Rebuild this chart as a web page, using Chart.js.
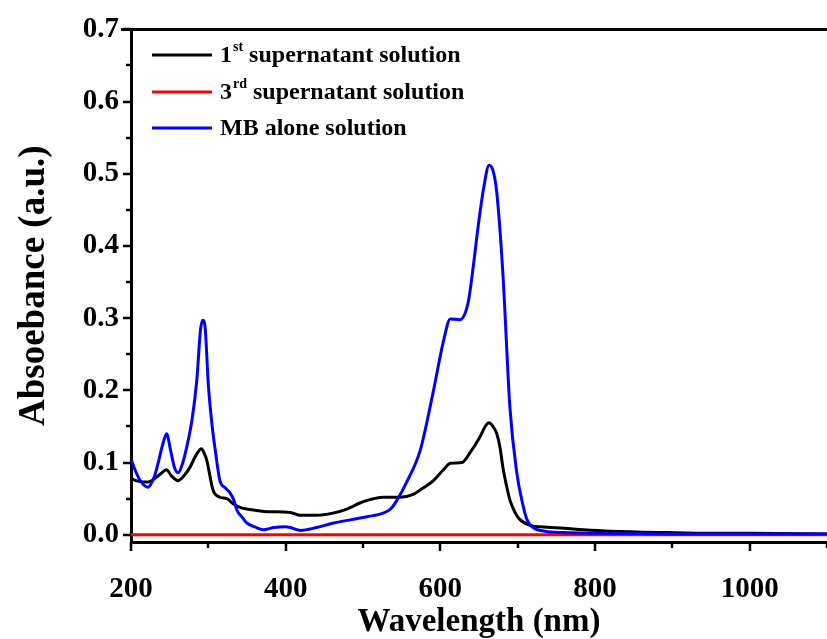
<!DOCTYPE html>
<html>
<head>
<meta charset="utf-8">
<script src="https://cdn.jsdelivr.net/npm/chart.js@4/dist/chart.umd.min.js"></script>
<style>
  html, body { margin: 0; padding: 0; background: #fff; }
  canvas { display: block; }
</style>
</head>
<body>
<canvas id="absorbancia" width="827" height="639"></canvas>
<script>
// series names (legend)
const seriesNames = ["1st supernatant solution", "3rd supernatant solution", "MB alone solution"];
const seriesColors = ["#000000", "#ff0000", "#0000ff"];

// 1st supernatant solution
const wl1 = [200, 210, 222, 232, 240, 246, 252, 261, 268, 276, 284, 291, 295, 298, 302, 306, 315, 324, 332, 341,
  360, 376, 406, 419, 440, 461, 480, 496, 510, 526, 548, 565, 574, 591, 604, 613, 628, 638, 651, 658,
  663, 668, 673, 677, 681, 686, 690, 697, 703, 716, 730, 760, 785, 820, 893, 950, 1000, 1100];
const abs1 = [0.078, 0.074, 0.073, 0.079, 0.086, 0.090, 0.082, 0.075, 0.081, 0.093, 0.110, 0.119, 0.112, 0.103, 0.082, 0.062, 0.052, 0.050, 0.043, 0.038,
  0.034, 0.032, 0.031, 0.027, 0.027, 0.030, 0.036, 0.044, 0.049, 0.052, 0.052, 0.056, 0.062, 0.075, 0.090, 0.099, 0.100, 0.113, 0.135, 0.150,
  0.155, 0.150, 0.140, 0.122, 0.093, 0.066, 0.048, 0.030, 0.021, 0.013, 0.011, 0.009, 0.007, 0.005, 0.003, 0.002, 0.002, 0.001];

// 3rd supernatant solution
const wl3 = [200, 300, 400, 500, 600, 700, 800, 900, 1000, 1100];
const abs3 = [0, 0, 0, 0, 0, 0, 0, 0, 0, 0];

// MB alone solution
const wlMB = [200, 206, 212, 222, 230, 235, 241, 246, 251, 256, 261, 267, 272, 279, 285, 290, 293, 296, 300, 305,
  309, 315, 322, 328, 333, 337, 344, 350, 360, 371, 385, 400, 406, 419, 440, 461, 485, 505, 526, 536,
  544, 556, 574, 591, 604, 613, 625, 636, 643, 649, 656, 663, 668, 673, 681, 690, 699, 706, 712, 720,
  735, 760, 800, 900, 1000, 1100];
const absMB = [0.105, 0.088, 0.075, 0.066, 0.080, 0.099, 0.125, 0.140, 0.118, 0.094, 0.086, 0.100, 0.121, 0.160, 0.213, 0.285, 0.297, 0.285, 0.208, 0.150,
  0.117, 0.075, 0.065, 0.058, 0.048, 0.034, 0.024, 0.016, 0.011, 0.007, 0.010, 0.011, 0.010, 0.006, 0.010, 0.016, 0.021, 0.025, 0.030, 0.036,
  0.048, 0.072, 0.117, 0.199, 0.268, 0.299, 0.298, 0.322, 0.375, 0.428, 0.480, 0.512, 0.505, 0.474, 0.360, 0.176, 0.085, 0.045, 0.021, 0.010,
  0.005, 0.003, 0.002, 0.001, 0.001, 0.001];

// axes
const xMajor = [200, 400, 600, 800, 1000];
const xMinor = [300, 500, 700, 900, 1100];
const yMajor = [0, 0.1, 0.2, 0.3, 0.4, 0.5, 0.6, 0.7];
const yMinor = [0.05, 0.15, 0.25, 0.35, 0.45, 0.55, 0.65];

const fuente = "'Liberation Serif', 'Times New Roman', serif";

const toPoints = (xs, ys) => xs.map((x, i) => ({ x: x, y: ys[i] }));

// marcas de los ejes, borde superior y leyenda con superindices
const extras = {
  id: "extras",
  afterDraw(chart) {
    const ctx = chart.ctx;
    const { left, right, top, bottom } = chart.chartArea;
    const xs = chart.scales.x;
    const ys = chart.scales.y;
    ctx.save();
    ctx.strokeStyle = "#000";
    ctx.lineWidth = 2.5;
    ctx.beginPath();
    yMajor.forEach((v) => { const p = Math.round(ys.getPixelForValue(v)); ctx.moveTo(left, p); ctx.lineTo(left - 8, p); });
    yMinor.forEach((v) => { const p = Math.round(ys.getPixelForValue(v)); ctx.moveTo(left, p); ctx.lineTo(left - 5, p); });
    xMajor.forEach((v) => { const p = Math.round(xs.getPixelForValue(v)); ctx.moveTo(p, bottom); ctx.lineTo(p, bottom + 9); });
    xMinor.forEach((v) => { const p = Math.round(xs.getPixelForValue(v)); ctx.moveTo(p, bottom); ctx.lineTo(p, bottom + 6); });
    ctx.stroke();
    ctx.lineWidth = 3;
    ctx.beginPath();
    ctx.moveTo(left - 10, top);
    ctx.lineTo(right, top);
    ctx.stroke();

    // leyenda
    const filas = [55, 92, 128];
    seriesNames.forEach((name, i) => {
      const y = filas[i];
      ctx.strokeStyle = seriesColors[i];
      ctx.lineWidth = 3;
      ctx.beginPath();
      ctx.moveTo(152, y);
      ctx.lineTo(212, y);
      ctx.stroke();
      ctx.fillStyle = "#000";
      ctx.textBaseline = "middle";
      let x = 220;
      const m = name.match(/^(\d)(st|nd|rd|th)( .*)$/);
      ctx.font = "bold 24px " + fuente;
      if (m) {
        ctx.fillText(m[1], x, y + 1);
        x += ctx.measureText(m[1]).width + 1;
        ctx.font = "bold 14px " + fuente;
        ctx.fillText(m[2], x, y - 8);
        x += ctx.measureText(m[2]).width;
        ctx.font = "bold 24px " + fuente;
        ctx.fillText(m[3], x, y + 1);
      } else {
        ctx.fillText(name, x, y + 1);
      }
    });
    ctx.restore();
  },
};

const lineStyle = (i) => ({
  label: seriesNames[i],
  borderColor: seriesColors[i],
  backgroundColor: seriesColors[i],
  borderWidth: 3,
  pointRadius: 0,
  fill: false,
  cubicInterpolationMode: "monotone",
});

new Chart(document.getElementById("absorbancia").getContext("2d"), {
  type: "line",
  data: {
    datasets: [
      { ...lineStyle(0), data: toPoints(wl1, abs1), order: 2 },
      { ...lineStyle(1), data: toPoints(wl3, abs3), order: 1 },
      { ...lineStyle(2), data: toPoints(wlMB, absMB), order: 0 },
    ],
  },
  options: {
    responsive: false,
    animation: false,
    layout: { padding: { top: 25, right: 0, left: 0, bottom: 0 } },
    plugins: { legend: { display: false }, tooltip: { enabled: false } },
    scales: {
      x: {
        type: "linear",
        min: 200,
        max: 1100,
        grid: { display: false, drawTicks: false },
        border: { display: true, width: 3, color: "#000" },
        ticks: {
          stepSize: 200,
          includeBounds: false,
          padding: 30,
          color: "#000",
          maxRotation: 0,
          font: { family: fuente, size: 29, weight: "bold" },
          callback: (v) => String(v),
        },
        title: {
          display: true,
          text: "Wavelength (nm)",
          color: "#000",
          font: { family: fuente, size: 33, weight: "bold", lineHeight: 1 },
          padding: { top: 0, bottom: 0 },
        },
        afterFit: (scale) => { scale.height = 97; },
      },
      y: {
        min: -0.01,
        max: 0.7,
        grid: { display: false, drawTicks: false },
        border: { display: true, width: 3, color: "#000" },
        ticks: {
          stepSize: 0.1,
          includeBounds: false,
          padding: 12,
          color: "#000",
          font: { family: fuente, size: 29, weight: "bold" },
          callback: (v) => (Math.abs(v) < 1e-9 ? 0 : v).toFixed(1),
        },
        title: {
          display: true,
          text: "Absoebance (a.u.)",
          color: "#000",
          font: { family: fuente, size: 37, weight: "bold", lineHeight: 1 },
          padding: { top: 16, bottom: 0 },
        },
        afterFit: (scale) => { scale.width = 131; },
      },
    },
  },
  plugins: [extras],
});
</script>
</body>
</html>
